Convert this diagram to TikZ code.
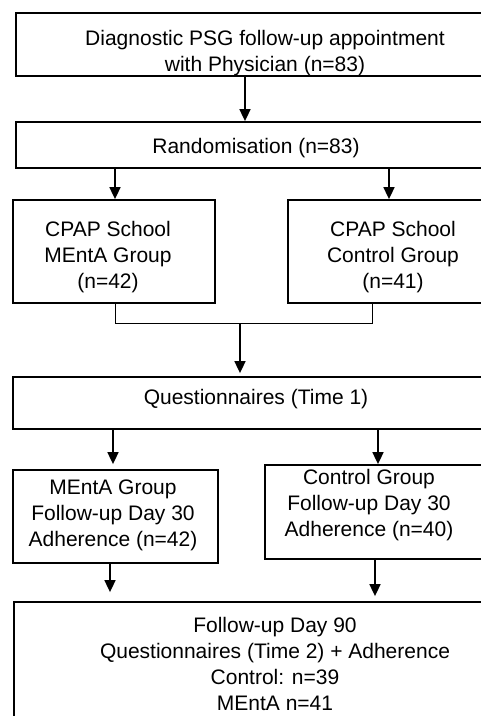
\documentclass[tikz,border=0pt]{standalone}
\usepackage{fontspec}
\setmainfont{Liberation Sans}
\usetikzlibrary{arrows.meta,fit}
\begin{document}
\begin{tikzpicture}[x=1pt,y=-1pt,
 box/.style={draw,line width=1.8pt,inner sep=0pt},
 txt/.style={align=center,font=\fontsize{21}{26}\selectfont,inner sep=0pt},
 arr/.style={line width=1.7pt,-{Triangle[length=12pt,width=11pt]}},
 joinline/.style={line width=0.9pt}]
\useasboundingbox (0,0) rectangle (481,716);
% boxes
\node[box,fit={(16,13) (530,76)}] (b1) {};
\node[box,fit={(16,122) (530,168)}] (b2) {};
\node[box,fit={(13,200) (215,303)}] (b3) {};
\node[box,fit={(288,200) (530,303)}] (b4) {};
\node[box,fit={(13,377) (530,429)}] (b5) {};
\node[box,fit={(13,470) (218,563)}] (b6) {};
\node[box,fit={(265,465) (530,559)}] (b7) {};
\node[box,fit={(14,602) (530,760)}] (b8) {};
% texts
\node[txt] (t1) at (265,53.5) {Diagnostic PSG follow-up appointment\\with Physician (n=83)};
\node[txt] (t2) at (256,148) {Randomisation (n=83)};
\node[txt] (t3) at (108,257) {CPAP School\\MEntA Group\\(n=42)};
\node[txt] (t4) at (393,257) {CPAP School\\Control Group\\(n=41)};
\node[txt] (t5) at (256,399) {Questionnaires (Time 1)};
\node[txt] (t6) at (113,515) {MEntA Group\\Follow-up Day 30\\Adherence (n=42)};
\node[txt] (t7) at (369,505) {Control Group\\Follow-up Day 30\\Adherence (n=40)};
\node[txt] (t8) at (275,664) {Follow-up Day 90\\Questionnaires (Time 2) + Adherence\\Control: n=39\\MEntA n=41};
% x positions
\coordinate (xa) at (245,0);
\coordinate (xb) at (115,0);
\coordinate (xc) at (389,0);
\coordinate (xd) at (372,0);
\coordinate (xe) at (113,0);
\coordinate (xf) at (378,0);
\coordinate (xg) at (110,0);
\coordinate (xh) at (375,0);
\coordinate (jn) at (240,323);
% connectors
\draw[arr] (b1.south -| xa) -- (b2.north -| xa);
\draw[arr] (b2.south -| xb) -- (b3.north -| xb);
\draw[arr] (b2.south -| xc) -- (b4.north -| xc);
\draw[joinline] (b3.south -| xb) -- (jn -| xb) -- (jn -| xd) -- (b4.south -| xd);
\draw[arr,shorten >=3pt] (jn) -- (b5.north -| jn);
\draw[arr,shorten >=5pt] (b5.south -| xe) -- (b6.north -| xe);
\draw[arr] (b5.south -| xf) -- (b7.north -| xf);
\draw[arr,shorten >=9pt] (b6.south -| xg) -- (b8.north -| xg);
\draw[arr,shorten >=5pt] (b7.south -| xh) -- (b8.north -| xh);
\end{tikzpicture}
\end{document}
